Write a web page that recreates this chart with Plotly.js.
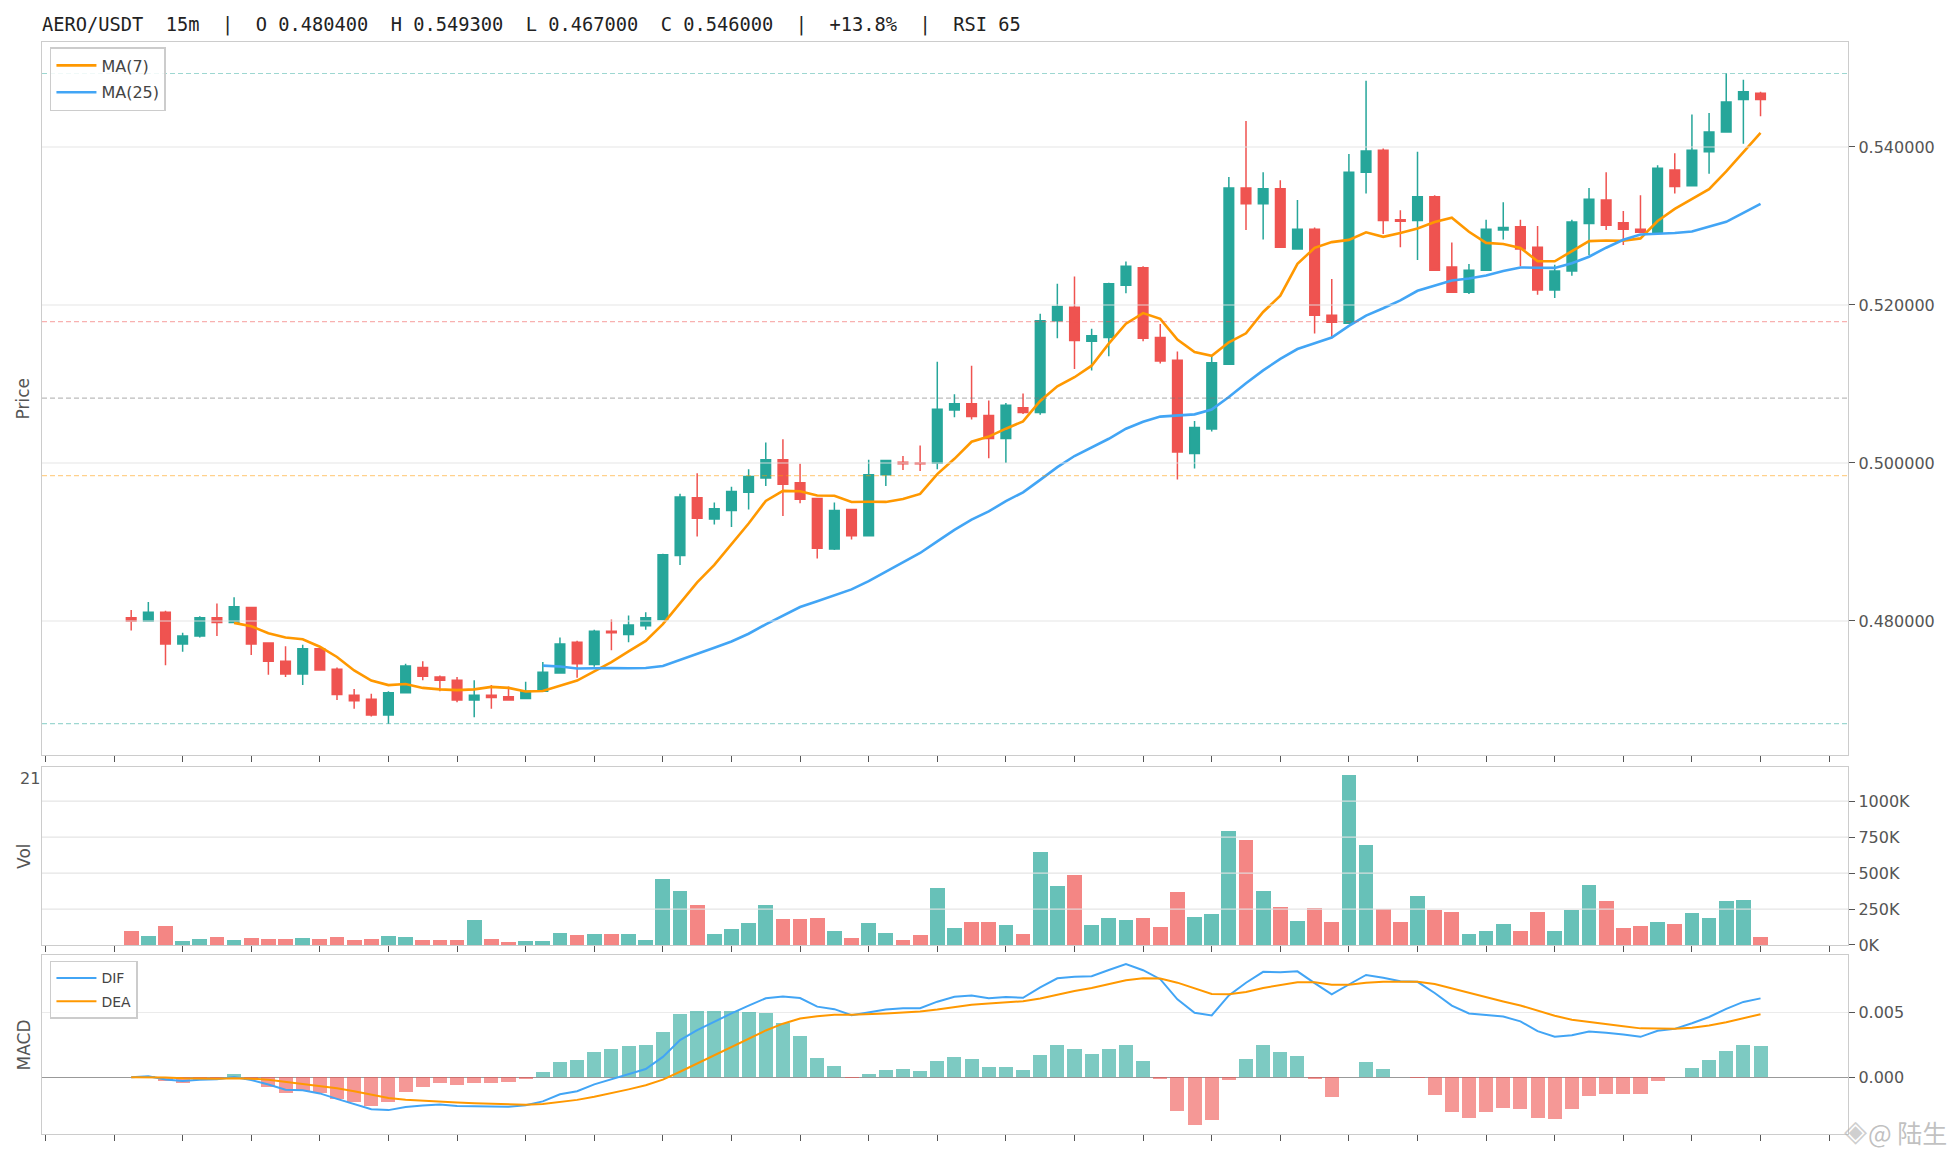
<!DOCTYPE html>
<html>
<head>
<meta charset="utf-8">
<script src="https://cdn.plot.ly/plotly-3.0.1.min.js"></script>
<style>
html,body{margin:0;padding:0;background:#ffffff;}
#chart{width:1956px;height:1156px;}
</style>
</head>
<body>
<div id="chart"></div>
<script>
// ---- data (15m candles, AERO/USDT) ----
const opens = [0.4804,0.4800,0.4811,0.4771,0.4781,0.4804,0.4798,0.4817,0.4772,0.4749,
0.4733,0.4765,0.4739,0.4706,0.4701,0.4681,0.4709,0.4741,0.4729,0.4725,
0.4700,0.4706,0.4704,0.4702,0.4711,0.4734,0.4773,0.4745,0.4787,0.4783,
0.4794,0.4802,0.4883,0.4956,0.4929,0.4940,0.4963,0.4981,0.5004,0.4975,
0.4955,0.4891,0.4941,0.4908,0.4985,0.5001,0.5000,0.5000,0.5067,0.5075,
0.5060,0.5031,0.5070,0.5064,0.5180,0.5197,0.5154,0.5159,0.5225,0.5247,
0.5159,0.5130,0.5012,0.5043,0.5125,0.5348,0.5328,0.5347,0.5271,0.5296,
0.5187,0.5177,0.5368,0.5396,0.5308,0.5307,0.5337,0.5248,0.5216,0.5244,
0.5295,0.5299,0.5273,0.5219,0.5243,0.5303,0.5333,0.5304,0.5296,0.5292,
0.5371,0.5351,0.5394,0.5419,0.5460,0.5468];
const highs = [0.4814,0.4824,0.4813,0.4785,0.4806,0.4822,0.4830,0.4818,0.4773,0.4768,
0.4770,0.4765,0.4741,0.4714,0.4708,0.4711,0.4746,0.4749,0.4731,0.4729,
0.4725,0.4719,0.4717,0.4723,0.4748,0.4779,0.4775,0.4789,0.4802,0.4807,
0.4811,0.4885,0.4961,0.4987,0.4950,0.4970,0.4992,0.5026,0.5030,0.4999,
0.4955,0.4950,0.4942,0.5004,0.5004,0.5009,0.5022,0.5128,0.5087,0.5123,
0.5079,0.5076,0.5088,0.5189,0.5227,0.5236,0.5170,0.5228,0.5255,0.5249,
0.5176,0.5141,0.5053,0.5135,0.5362,0.5433,0.5368,0.5358,0.5333,0.5298,
0.5233,0.5391,0.5484,0.5398,0.5320,0.5394,0.5339,0.5279,0.5252,0.5308,
0.5330,0.5308,0.5300,0.5251,0.5308,0.5348,0.5368,0.5319,0.5339,0.5377,
0.5392,0.5441,0.5443,0.5493,0.5485,0.5470];
const lows = [0.4788,0.4799,0.4744,0.4761,0.4779,0.4781,0.4798,0.4757,0.4732,0.4729,
0.4719,0.4738,0.4700,0.4689,0.4679,0.4670,0.4709,0.4725,0.4711,0.4697,
0.4678,0.4689,0.4700,0.4702,0.4711,0.4734,0.4728,0.4742,0.4763,0.4773,
0.4789,0.4802,0.4871,0.4907,0.4922,0.4919,0.4941,0.4971,0.4933,0.4949,
0.4879,0.4890,0.4903,0.4907,0.4971,0.4991,0.4990,0.4992,0.5058,0.5055,
0.5006,0.5000,0.5062,0.5061,0.5158,0.5119,0.5117,0.5135,0.5215,0.5154,
0.5126,0.4979,0.4993,0.5040,0.5125,0.5295,0.5283,0.5273,0.5271,0.5164,
0.5158,0.5177,0.5341,0.5290,0.5273,0.5257,0.5243,0.5216,0.5214,0.5244,
0.5283,0.5249,0.5213,0.5209,0.5237,0.5263,0.5295,0.5276,0.5292,0.5292,
0.5341,0.5351,0.5366,0.5419,0.5404,0.5439];
const closes = [0.4800,0.4811,0.4771,0.4781,0.4804,0.4798,0.4818,0.4771,0.4749,0.4733,
0.4765,0.4738,0.4707,0.4699,0.4681,0.4709,0.4743,0.4730,0.4725,0.4700,
0.4706,0.4703,0.4700,0.4711,0.4735,0.4771,0.4746,0.4787,0.4785,0.4795,
0.4804,0.4884,0.4957,0.4930,0.4942,0.4964,0.4983,0.5004,0.4973,0.4954,
0.4892,0.4940,0.4908,0.4985,0.5003,0.4999,0.4999,0.5068,0.5075,0.5059,
0.5031,0.5073,0.5064,0.5180,0.5198,0.5155,0.5161,0.5227,0.5249,0.5158,
0.5129,0.5014,0.5045,0.5127,0.5348,0.5328,0.5347,0.5273,0.5296,0.5187,
0.5178,0.5368,0.5395,0.5307,0.5306,0.5337,0.5244,0.5216,0.5244,0.5296,
0.5298,0.5271,0.5219,0.5243,0.5305,0.5334,0.5301,0.5296,0.5292,0.5373,
0.5350,0.5396,0.5419,0.5457,0.5470,0.5460];
const volumes = [97000,62000,132000,28000,42000,55000,35000,48000,42000,42000,
48000,42000,55000,35000,42000,62000,55000,35000,35000,35000,
173000,42000,21000,28000,28000,83000,69000,76000,76000,76000,
35000,457000,374000,277000,76000,111000,152000,277000,180000,180000,
187000,97000,48000,152000,83000,35000,69000,395000,118000,159000,
159000,138000,76000,644000,408000,485000,138000,187000,173000,187000,
125000,367000,194000,215000,796000,727000,374000,263000,168000,258000,
162000,1179000,695000,247000,162000,342000,245000,231000,78000,99000,
148000,99000,231000,99000,245000,418000,307000,120000,134000,162000,
148000,224000,189000,307000,314000,58000];

const fibLevels = [0.5493, 0.5179, 0.5082, 0.4984, 0.4670];
const fibColors = ['rgba(38,166,154,0.45)','rgba(239,83,80,0.45)','rgba(120,120,120,0.5)','rgba(255,152,0,0.45)','rgba(38,166,154,0.45)'];
const priceTicks = [0.48, 0.50, 0.52, 0.54];
const volTicks = [0, 250000, 500000, 750000, 1000000];
const volTickText = ['0K','250K','500K','750K','1000K'];
const macdTicks = [0, 0.005];
const xTicks = [-5,-1,3,7,11,15,19,23,27,31,35,39,43,47,51,55,59,63,67,71,75,79,83,87,91,95,99];
const titleText = 'AERO/USDT  15m  |  O 0.480400  H 0.549300  L 0.467000  C 0.546000  |  +13.8%  |  RSI 65';

// ---- indicators derived from closes ----
const idx = closes.map((_, i) => i);
function sma(vals, n) {
  return vals.map((_, i) => {
    if (i < n - 1) return null;
    let s = 0;
    for (let k = i - n + 1; k <= i; k++) s += vals[k];
    return s / n;
  });
}
function ema(vals, n) {
  const a = 2 / (n + 1);
  const out = [];
  vals.forEach((v, i) => { out.push(i === 0 ? v : a * v + (1 - a) * out[i - 1]); });
  return out;
}
const ma7 = sma(closes, 7);
const ma25 = sma(closes, 25);
const e12 = ema(closes, 12), e26 = ema(closes, 26);
const dif = e12.map((v, i) => v - e26[i]);
const dea = ema(dif, 9);
const hist = dif.map((v, i) => 2 * (v - dea[i]));

const UP = '#26a69a', DOWN = '#ef5350';
const volColors = closes.map((c, i) => c >= opens[i] ? 'rgba(38,166,154,0.7)' : 'rgba(239,83,80,0.7)');
const histColors = hist.map(h => h >= 0 ? 'rgba(38,166,154,0.6)' : 'rgba(239,83,80,0.6)');

const traces = [
  {type:'candlestick', x: idx, open: opens, high: highs, low: lows, close: closes,
   xaxis:'x', yaxis:'y', showlegend:false, whiskerwidth:0,
   increasing:{line:{color:UP, width:1.5}, fillcolor:UP},
   decreasing:{line:{color:DOWN, width:1.5}, fillcolor:DOWN}},
  {type:'scatter', mode:'lines', x: idx, y: ma7, name:'MA(7)', xaxis:'x', yaxis:'y',
   line:{color:'#ff9800', width:2.6}, legend:'legend', legendgroup:'ma7'},
  {type:'scatter', mode:'lines', x: idx, y: ma25, name:'MA(25)', xaxis:'x', yaxis:'y',
   line:{color:'#42a5f5', width:2.6}, legend:'legend', legendgroup:'ma25'},
  {type:'bar', x: idx, y: volumes, xaxis:'x2', yaxis:'y2', width:0.86,
   marker:{color: volColors, line:{width:0}}, showlegend:false},
  {type:'bar', x: idx, y: hist, xaxis:'x3', yaxis:'y3', width:0.82,
   marker:{color: histColors, line:{width:0}}, showlegend:false},
  {type:'scatter', mode:'lines', x: idx, y: dif, name:'DIF', xaxis:'x3', yaxis:'y3',
   line:{color:'#42a5f5', width:2}, legend:'legend2', legendgroup:'dif'},
  {type:'scatter', mode:'lines', x: idx, y: dea, name:'DEA', xaxis:'x3', yaxis:'y3',
   line:{color:'#ff9800', width:2}, legend:'legend2', legendgroup:'dea'}
];

const tickFont = {family:'DejaVu Sans', size:16, color:'#555555'};
function xAxis(anchor) {
  return {domain:[0,1], anchor: anchor, range:[-5.2, 100.1], showgrid:false, zeroline:false,
    showline:true, mirror:true, linecolor:'#cccccc', linewidth:1.2,
    ticks:'outside', tickvals: xTicks, ticklen:6, tickwidth:1, tickcolor:'#555555',
    showticklabels:false, rangeslider:{visible:false}, fixedrange:true};
}
function yAxis(anchor, domain, range) {
  return {domain: domain, anchor: anchor, side:'right', range: range, showgrid:false, zeroline:false,
    showline:true, mirror:true, linecolor:'#cccccc', linewidth:1.2,
    ticks:'outside', ticklen:6, tickwidth:1, tickcolor:'#555555', tickfont: tickFont, fixedrange:true};
}

const shapes = [];
// gridlines drawn above bar/candle bodies like the reference
priceTicks.forEach(v => shapes.push({type:'line', xref:'x domain', x0:0, x1:1, yref:'y', y0:v, y1:v,
  line:{color:'rgba(225,225,225,0.9)', width:1.2}, layer:'above'}));
volTicks.slice(1).forEach(v => shapes.push({type:'line', xref:'x2 domain', x0:0, x1:1, yref:'y2', y0:v, y1:v,
  line:{color:'rgba(225,225,225,0.9)', width:1.2}, layer:'above'}));
fibLevels.forEach((v, i) => shapes.push({type:'line', xref:'x domain', x0:0, x1:1, yref:'y', y0:v, y1:v,
  line:{color: fibColors[i], width:1.2, dash:'5px,3px'}, layer:'above'}));

const axisTitleFont = {family:'DejaVu Sans', size:17, color:'#555555'};
const annotations = [
  {text:'Price', xref:'paper', x:-0.0100, yref:'y domain', y:0.5, textangle:-90, showarrow:false,
   xanchor:'center', yanchor:'middle', font:axisTitleFont},
  {text:'Vol', xref:'paper', x:-0.0100, yref:'y2 domain', y:0.5, textangle:-90, showarrow:false,
   xanchor:'center', yanchor:'middle', font:axisTitleFont},
  {text:'MACD', xref:'paper', x:-0.0100, yref:'y3 domain', y:0.5, textangle:-90, showarrow:false,
   xanchor:'center', yanchor:'middle', font:axisTitleFont},
  {text:'21', xref:'paper', x:0, xanchor:'right', yref:'paper', y:0.3251, yanchor:'middle',
   showarrow:false, font:{family:'DejaVu Sans', size:16, color:'#555555'}},
  {text:'◈', xref:'paper', x:1.0044, xanchor:'center', yref:'paper', y:0.003, yanchor:'middle',
   showarrow:false, font:{family:'DejaVu Sans', size:30, color:'rgba(175,175,175,0.6)'}},
  {text:'@ 陆生', xref:'paper', x:1.0560, xanchor:'right', yref:'paper', y:0.002, yanchor:'middle',
   showarrow:false, font:{family:'Noto Sans CJK SC', size:25, color:'rgba(165,165,165,0.7)'}}
];

const layout = {
  width:1956, height:1156,
  margin:{l:42, r:108, t:42, b:22},
  paper_bgcolor:'#ffffff', plot_bgcolor:'#ffffff',
  font:{family:'DejaVu Sans', color:'#555555'},
  title:{text: titleText.replace(/ /g, '\u00a0'), xref:'paper', x:0, xanchor:'left',
         yref:'container', y:1 - 24/1156, yanchor:'middle',
         font:{family:'DejaVu Sans Mono', size:18.7, color:'#222222'}},
  boxgap:0.2,
  bargap:0,
  showlegend:true,
  hovermode:false,
  xaxis: xAxis('y'),
  xaxis2: xAxis('y2'),
  xaxis3: xAxis('y3'),
  yaxis: Object.assign(yAxis('x', [0.3471, 1], [0.46304, 0.55329]), {tickvals: priceTicks, tickformat:'.6f'}),
  yaxis2: Object.assign(yAxis('x2', [0.1731, 0.3361], [0, 1238000]), {tickvals: volTicks, ticktext: volTickText}),
  yaxis3: Object.assign(yAxis('x3', [0, 0.1639], [-0.00436, 0.00941]), {tickvals: macdTicks, tickformat:'.3f',
          showgrid:true, gridcolor:'#ebebeb', zeroline:true, zerolinecolor:'#999999', zerolinewidth:1.3}),
  legend:{x:0.0044, y:0.9954, xanchor:'left', yanchor:'top', xref:'paper', yref:'paper',
          bgcolor:'rgba(255,255,255,0.85)', bordercolor:'#cccccc', borderwidth:1.5, tracegroupgap:3,
          font:{family:'DejaVu Sans', size:16, color:'#444444'}, itemwidth:40},
  legend2:{x:0.0044, y:0.1585, xanchor:'left', yanchor:'top', xref:'paper', yref:'paper',
          bgcolor:'rgba(255,255,255,0.85)', bordercolor:'#cccccc', borderwidth:1.5, tracegroupgap:2,
          font:{family:'DejaVu Sans', size:14, color:'#444444'}, itemwidth:40},
  shapes: shapes,
  annotations: annotations
};

Plotly.newPlot('chart', traces, layout, {displayModeBar:false, staticPlot:true});
</script>
</body>
</html>
